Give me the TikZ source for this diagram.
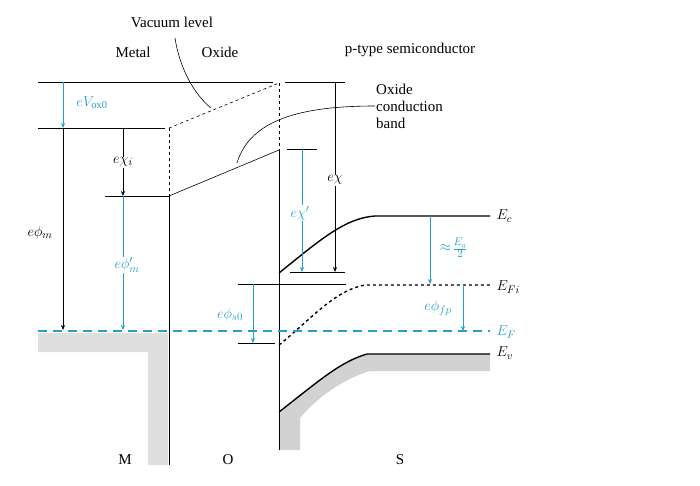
\documentclass[tikz,border=0pt]{standalone}
\usepackage{fontspec}
\setmainfont{Liberation Serif}
\usetikzlibrary{positioning,arrows.meta}
\definecolor{bandcyan}{RGB}{38,160,200}
\tikzset{
  level/.style = {line width=0.6pt},
  band/.style = {line width=1.4pt},
  arr/.style = {-{Stealth[length=5pt,width=4pt]}, line width=0.6pt},
  cyanarr/.style = {arr, color=bandcyan},
  lbl/.style = {font=\fontsize{15}{17}\selectfont},
  clbl/.style = {lbl, text=bandcyan},
}
\begin{document}
\begin{tikzpicture}[x=1pt, y=-1pt]
  \useasboundingbox (0,0) rectangle (700,485);
  % gray fills
  \fill[gray!25] (38,333) -- (168,333) -- (168,465) -- (148,465) -- (148,352) -- (38,352) -- cycle;
  \fill[gray!35] (279,412) .. controls (320,380) and (340,362) .. (367,354) -- (490,354) -- (490,371) -- (370,371)
      .. controls (340,380) and (315,400) .. (300,418) -- (300,450) -- (279,450) -- cycle;
  % coordinates
  \coordinate (vacL) at (38,82);
  \coordinate (vacM) at (273,82);
  \coordinate (fmL) at (38,128);
  \coordinate (fmR) at (165,128);
  \coordinate (oxTL) at (169,128);
  \coordinate (oxTR) at (279,83);
  \coordinate (cbL) at (169,196);
  \coordinate (cbR) at (279,150);
  % vacuum and metal levels
  \draw[level] (vacL) -- (vacM);
  \draw[level] (285,82) -- (345,82);
  \draw[level] (fmL) -- (fmR);
  \draw[level, dashed] (oxTL) -- (oxTR);
  \draw[level, dashed] (oxTL) -- (cbL);
  \draw[level] (cbL) -- (169,465);
  \draw[level, dashed] (oxTR) -- (cbR);
  \draw[level] (cbR) -- (279,450);
  \draw[level] (cbL) -- (cbR);
  \draw[level] (105,196) -- (cbL);
  % semiconductor bands
  \draw[band] (279,273) .. controls (320,240) and (345,218) .. (375,216) -- (490,216);
  \draw[band, dashed] (279,345) .. controls (310,320) and (335,290) .. (365,285) -- (490,285);
  \draw[band] (279,412) .. controls (320,380) and (340,362) .. (367,354) -- (490,354);
  \draw[line width=1.2pt, dashed, dash pattern=on 9pt off 6pt, bandcyan] (38,331) -- (490,331);
  % reference ticks
  \draw[level] (290,272) -- (345,272);
  \draw[level] (287,149) -- (317,149);
  \draw[level] (238,284) -- (346,284);
  \draw[level] (238,343) -- (275,343);
  % arrows
  \draw[cyanarr] (63,82) -- (63,128);
  \draw[arr] (63,128) -- (63,330);
  \draw[arr] (123,128) -- (123,196);
  \draw[cyanarr] (123,196) -- (123,330);
  \draw[arr] (335,82) -- (335,272);
  \draw[cyanarr] (302,149) -- (302,272);
  \draw[cyanarr] (253,284) -- (253,343);
  \draw[cyanarr] (430,216) -- (430,284);
  \draw[cyanarr] (463,285) -- (463,331);
  % labels
  \node[clbl, fill=white, inner sep=1pt] (eVox) at (92,103) {$eV_{\mathrm{ox0}}$};
  \node[lbl, fill=white, inner sep=1pt] (echii) at (123,162) {$e\chi_i$};
  \node[lbl] (ephim) at (40,233) {$e\phi_m$};
  \node[clbl, fill=white, inner sep=1pt] (ephimp) at (127,265) {$e\phi'_m$};
  \node[lbl, fill=white, inner sep=1pt] (echi) at (335,180) {$e\chi$};
  \node[clbl, fill=white, inner sep=1pt] (echip) at (300,213) {$e\chi'$};
  \node[clbl, fill=white, inner sep=1pt] (ephis) at (230,315) {$e\phi_{s0}$};
  \node[clbl, inner sep=0pt] (eg) at (460,248) {$\frac{E_g}{2}$};
  \node[clbl, inner sep=0pt, left=1pt of eg] (approx) {$\approx$};
  \node[clbl, fill=white, inner sep=1pt] (ephifp) at (438,308) {$e\phi_{fp}$};
  \node[lbl, anchor=west] (Ec) at (493,216) {$E_c$};
  \node[lbl, anchor=west] (EFi) at (493,287) {$E_{Fi}$};
  \node[lbl, anchor=west, text=bandcyan] (EF) at (493,332) {$E_F$};
  \node[lbl, anchor=west] (Ev) at (493,353) {$E_v$};
  \node[lbl] (vac) at (172,22) {Vacuum level};
  \node[lbl] (metal) at (133,52) {Metal};
  \node[lbl] (oxide) at (220,52) {Oxide};
  \node[lbl] (ptype) at (410,50) {p-type semiconductor};
  \node[lbl, align=left, anchor=west, inner sep=1pt] (oxcb) at (375,106) {Oxide\\conduction\\band};
  \node[lbl] (M) at (125,460) {M};
  \node[lbl] (O) at (228,460) {O};
  \node[lbl] (S) at (400,460) {S};
  % pointers
  \draw[level] (175,38) .. controls (180,70) and (195,95) .. (211,108);
  \draw[level] (237,163) .. controls (250,120) and (300,106) .. (oxcb.west);
\end{tikzpicture}
\end{document}
